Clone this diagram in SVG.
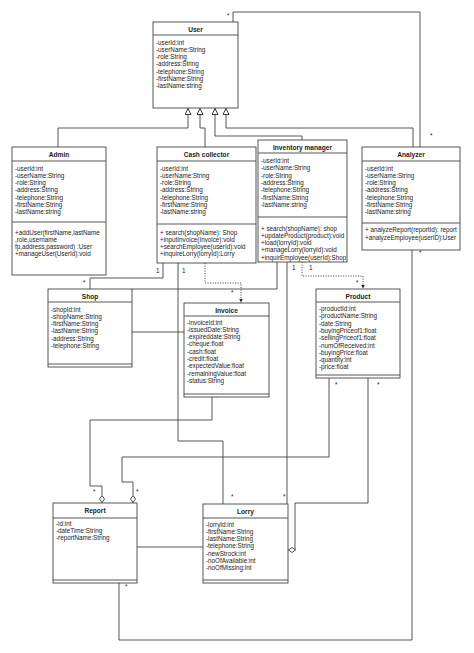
<svg xmlns="http://www.w3.org/2000/svg" width="474" height="653" viewBox="0 0 474 653">
<style>
.bg{fill:#fff}
.box{fill:#fff;stroke:#444;stroke-width:0.9}
.ln{stroke:#444;stroke-width:0.9;fill:none}
.t{font-family:"Liberation Sans",Arial,sans-serif;font-size:6.3px;fill:#222}
.h{font-family:"Liberation Sans",Arial,sans-serif;font-size:6.6px;font-weight:bold;fill:#222;text-anchor:middle}
.c{fill:none;stroke:#444;stroke-width:0.9}
.d{stroke-dasharray:1.2 1.3}
</style>
<defs>
<marker id="inh" markerUnits="userSpaceOnUse" markerWidth="8" markerHeight="8" refX="6" refY="3" orient="auto"><path d="M0,0 L6,3 L0,6 z" fill="#fff" stroke="#222" stroke-width="0.9"/></marker>
<marker id="dep" markerUnits="userSpaceOnUse" markerWidth="6" markerHeight="6" refX="4" refY="2" orient="auto"><path d="M0,0 L4,2 L0,4 z" fill="#222"/></marker>
<marker id="dia" markerUnits="userSpaceOnUse" markerWidth="10" markerHeight="6" refX="7" refY="2.5" orient="auto"><path d="M0,2.5 L3.5,0 L7,2.5 L3.5,5 z" fill="#fff" stroke="#222" stroke-width="0.8"/></marker>
<clipPath id="invclip"><rect x="258" y="140" width="88.5" height="122"/></clipPath>
</defs>
<rect class="bg" x="0" y="0" width="474" height="653"/>

<g id="connectors">
<polyline class="c" points="233,22 233,12 420,12 420,147"/>
<polyline class="c" points="58,147 58,128 188,128 188,108.5" marker-end="url(#inh)"/>
<polyline class="c" points="205,147 205,128 200,128 200,108.5" marker-end="url(#inh)"/>
<polyline class="c" points="302,140 302,136 215,136 215,108.5" marker-end="url(#inh)"/>
<polyline class="c" points="413,147 413,128 226,128 226,108.5" marker-end="url(#inh)"/>
<polyline class="c" points="163,263 163,278 90,278 90,289"/>
<polyline class="c d" points="205,263 205,283 241,283 241,302.5" marker-end="url(#dep)"/>
<polyline class="c" points="178,263 178,441 223,441 223,504"/>
<polyline class="c" points="277,262 277,289 132,289"/>
<line class="c" x1="287" y1="262" x2="287" y2="504"/>
<polyline class="c d" points="302,262 302,276 363,276 363,288.5" marker-end="url(#dep)"/>
<line class="c" x1="132" y1="332" x2="184" y2="332"/>
<polyline class="c" points="212,397 212,420 90,420 90,486 102,486 102,502.5" marker-end="url(#dia)"/>
<polyline class="c" points="329,378 329,457 122,457 122,482 133,482 133,502.5" marker-end="url(#dia)"/>
<polyline class="c" points="368,378 368,503 295,503 295,550 288.5,550" marker-end="url(#dia)"/>
<line class="c" x1="137" y1="547" x2="203" y2="547"/>
<polyline class="c" points="119,583 119,640 412,640 412,250"/>
<text class="t" x="227" y="18">*</text>
<text class="t" x="430" y="138">*</text>
<text class="t" x="156" y="273">1</text>
<text class="t" x="182" y="273">1</text>
<text class="t" x="83" y="285">*</text>
<text class="t" x="231" y="295">*</text>
<text class="t" x="292" y="270">1</text>
<text class="t" x="309" y="270">1</text>
<text class="t" x="356" y="285">*</text>
<text class="t" x="335" y="387">*</text>
<text class="t" x="377" y="387">*</text>
<text class="t" x="215" y="400">*</text>
<text class="t" x="93" y="494">*</text>
<text class="t" x="136" y="494">*</text>
<text class="t" x="231" y="499">*</text>
<text class="t" x="283" y="499">*</text>
<text class="t" x="125" y="589">*</text>
<text class="t" x="419" y="255">*</text>
</g>

<g id="User">
<rect class="box" x="153" y="22" width="85" height="86"/>
<line class="ln" x1="153" y1="35" x2="238" y2="35"/>
<text class="h" x="195.5" y="31.5">User</text>
<text class="t" x="156" y="44.5">-userId:int</text>
<text class="t" x="156" y="51.8">-userName:String</text>
<text class="t" x="156" y="59.1">-role:String</text>
<text class="t" x="156" y="66.4">-address:String</text>
<text class="t" x="156" y="73.7">-telephone:String</text>
<text class="t" x="156" y="81">-firstName:String</text>
<text class="t" x="156" y="88.3">-lastName:string</text>
</g>

<g id="Admin">
<rect class="box" x="12" y="147" width="94" height="128"/>
<line class="ln" x1="12" y1="161" x2="106" y2="161"/>
<line class="ln" x1="12" y1="222" x2="106" y2="222"/>
<text class="h" x="59" y="157">Admin</text>
<text class="t" x="15" y="170.5">-userId:int</text>
<text class="t" x="15" y="177.8">-userName:String</text>
<text class="t" x="15" y="185.1">-role:String</text>
<text class="t" x="15" y="192.4">-address:String</text>
<text class="t" x="15" y="199.7">-telephone:String</text>
<text class="t" x="15" y="207">-firstName:String</text>
<text class="t" x="15" y="214.3">-lastName:string</text>
<text class="t" x="15" y="234.5">+addUser(firstName,lastName</text>
<text class="t" x="15" y="241.8">,role,username</text>
<text class="t" x="15" y="249.1">fp,address,password) :User</text>
<text class="t" x="15" y="256.4">+manageUser(UserId):void</text>
</g>

<g id="CashCollector">
<rect class="box" x="157" y="147" width="99" height="116"/>
<line class="ln" x1="157" y1="161" x2="256" y2="161"/>
<line class="ln" x1="157" y1="224" x2="256" y2="224"/>
<text class="h" x="206.5" y="157">Cash collector</text>
<text class="t" x="160" y="170.5">-userId:int</text>
<text class="t" x="160" y="177.8">-userName:String</text>
<text class="t" x="160" y="185.1">-role:String</text>
<text class="t" x="160" y="192.4">-address:String</text>
<text class="t" x="160" y="199.7">-telephone:String</text>
<text class="t" x="160" y="207">-firstName:String</text>
<text class="t" x="160" y="214.3">-lastName:string</text>
<text class="t" x="160" y="234.5">+ search(shopName): Shop</text>
<text class="t" x="160" y="241.8">+inputInvoice(Invoice):void</text>
<text class="t" x="160" y="249.1">+searchEmployee(userId):void</text>
<text class="t" x="160" y="256.4">+inquireLorry(lorryId):Lorry</text>
</g>

<g id="InventoryManager">
<rect class="box" x="258" y="140" width="89" height="122"/>
<line class="ln" x1="258" y1="153" x2="347" y2="153"/>
<line class="ln" x1="258" y1="217" x2="347" y2="217"/>
<text class="h" x="302.5" y="149.5">Inventory manager</text>
<text class="t" x="261" y="163">-userId:int</text>
<text class="t" x="261" y="170.3">-userName:String</text>
<text class="t" x="261" y="177.6">-role:String</text>
<text class="t" x="261" y="184.9">-address:String</text>
<text class="t" x="261" y="192.2">-telephone:String</text>
<text class="t" x="261" y="199.5">-firstName:String</text>
<text class="t" x="261" y="206.8">-lastName:string</text>
<g clip-path="url(#invclip)">
<text class="t" x="261" y="230.5">+ search(shopName): shop</text>
<text class="t" x="261" y="237.8">+updateProduct(product):void</text>
<text class="t" x="261" y="245.1">+load(lorryId):void</text>
<text class="t" x="261" y="252.4">+manageLorry(lorryId):void</text>
<text class="t" x="261" y="259.7">+inquirEmployee(userId):Shop</text>
</g>
</g>

<g id="Analyzer">
<rect class="box" x="362" y="147" width="98" height="103"/>
<line class="ln" x1="362" y1="161" x2="460" y2="161"/>
<line class="ln" x1="362" y1="223" x2="460" y2="223"/>
<text class="h" x="411" y="157">Analyzer</text>
<text class="t" x="365" y="170.5">-userId:int</text>
<text class="t" x="365" y="177.8">-userName:String</text>
<text class="t" x="365" y="185.1">-role:String</text>
<text class="t" x="365" y="192.4">-address:String</text>
<text class="t" x="365" y="199.7">-telephone:String</text>
<text class="t" x="365" y="207">-firstName:String</text>
<text class="t" x="365" y="214.3">-lastName:string</text>
<text class="t" x="365" y="232.3">+ analyzeReport(reportId): report</text>
<text class="t" x="365" y="239.6">+analyzeEmployee(userID):User</text>
</g>

<g id="Shop">
<rect class="box" x="48" y="289" width="84" height="78"/>
<line class="ln" x1="48" y1="302" x2="132" y2="302"/>
<line class="ln" x1="48" y1="364" x2="132" y2="364"/>
<text class="h" x="90" y="298.5">Shop</text>
<text class="t" x="51" y="311.5">-shopId:int</text>
<text class="t" x="51" y="318.8">-shopName:String</text>
<text class="t" x="51" y="326.1">-firstName:String</text>
<text class="t" x="51" y="333.4">-lastName:String</text>
<text class="t" x="51" y="340.7">-address:String</text>
<text class="t" x="51" y="348">-telephone:String</text>
</g>

<g id="Invoice">
<rect class="box" x="184" y="303" width="85" height="94"/>
<line class="ln" x1="184" y1="316" x2="269" y2="316"/>
<line class="ln" x1="184" y1="394" x2="269" y2="394"/>
<text class="h" x="226.5" y="312.5">Invoice</text>
<text class="t" x="187" y="324.5">-invoiceId:int</text>
<text class="t" x="187" y="331.8">-issuedDate:String</text>
<text class="t" x="187" y="339.1">-expireddate:String</text>
<text class="t" x="187" y="346.4">-cheque:float</text>
<text class="t" x="187" y="353.7">-cash:float</text>
<text class="t" x="187" y="361">-credit:float</text>
<text class="t" x="187" y="368.3">-expectedValue:float</text>
<text class="t" x="187" y="375.6">-remainingValue:float</text>
<text class="t" x="187" y="382.9">-status:String</text>
</g>

<g id="Product">
<rect class="box" x="316" y="289" width="84" height="89"/>
<line class="ln" x1="316" y1="302" x2="400" y2="302"/>
<line class="ln" x1="316" y1="375" x2="400" y2="375"/>
<text class="h" x="358" y="298.5">Product</text>
<text class="t" x="319" y="311">-productId:int</text>
<text class="t" x="319" y="318.3">-productName:String</text>
<text class="t" x="319" y="325.6">-date:String</text>
<text class="t" x="319" y="332.9">-buyingPriceof1:float</text>
<text class="t" x="319" y="340.2">-sellingPriceof1:float</text>
<text class="t" x="319" y="347.5">-numOfReceived:int</text>
<text class="t" x="319" y="354.8">-buyingPrice:float</text>
<text class="t" x="319" y="362.1">-quantity:int</text>
<text class="t" x="319" y="369.4">-price:float</text>
</g>

<g id="Report">
<rect class="box" x="53" y="503" width="84" height="80"/>
<line class="ln" x1="53" y1="518" x2="137" y2="518"/>
<line class="ln" x1="53" y1="580" x2="137" y2="580"/>
<text class="h" x="95" y="513">Report</text>
<text class="t" x="56" y="525.5">-id:int</text>
<text class="t" x="56" y="532.8">-dateTime:String</text>
<text class="t" x="56" y="540.1">-reportName:String</text>
</g>

<g id="Lorry">
<rect class="box" x="203" y="504" width="85" height="79"/>
<line class="ln" x1="203" y1="518" x2="288" y2="518"/>
<line class="ln" x1="203" y1="580" x2="288" y2="580"/>
<text class="h" x="245.5" y="513.5">Lorry</text>
<text class="t" x="206" y="526.5">-lorryId:int</text>
<text class="t" x="206" y="533.8">-firstName:String</text>
<text class="t" x="206" y="541.1">-lastName:String</text>
<text class="t" x="206" y="548.4">-telephone:String</text>
<text class="t" x="206" y="555.7">-newStrock:int</text>
<text class="t" x="206" y="563">-noOfAvailable:int</text>
<text class="t" x="206" y="570.3">-noOfMissing:int</text>
</g>
</svg>
